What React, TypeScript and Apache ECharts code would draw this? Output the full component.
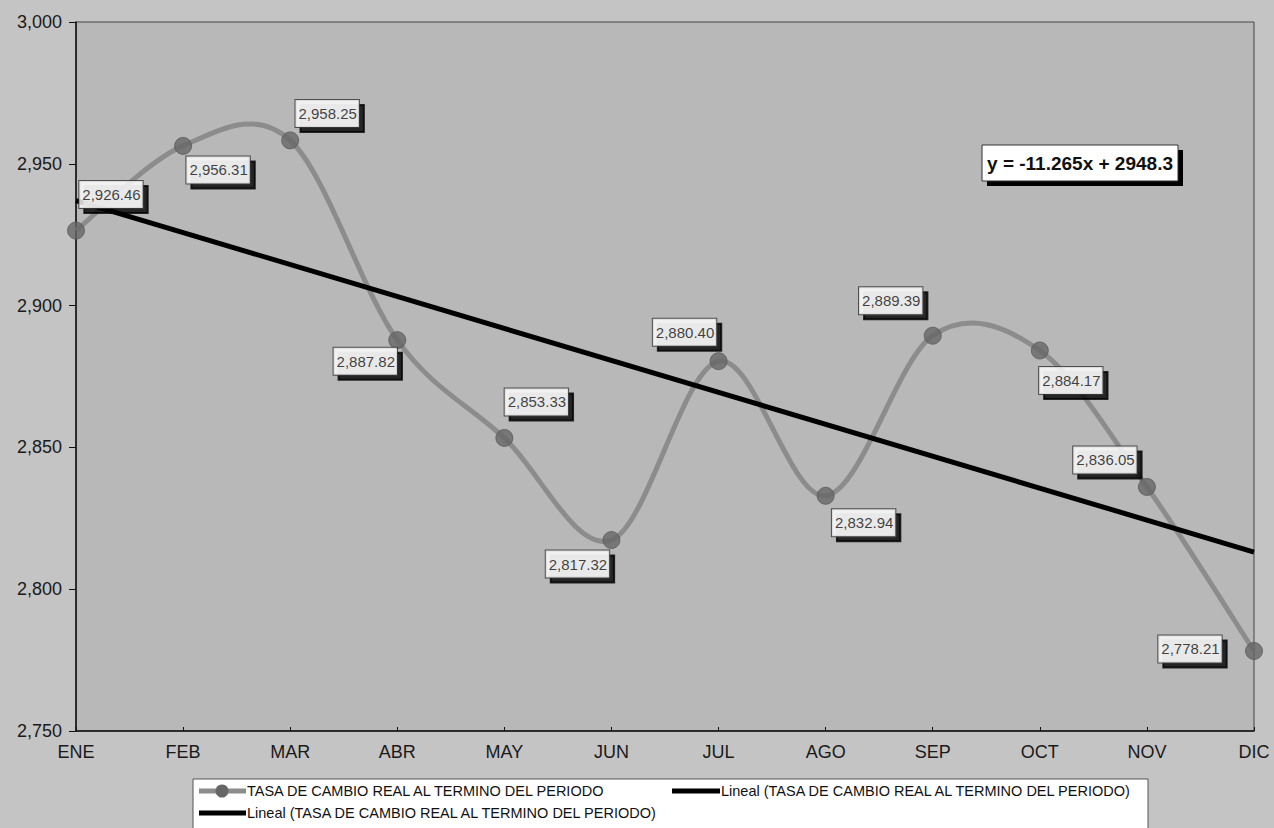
import React, { useEffect, useRef } from "react";
import * as echarts from "echarts";

const categories = ["ENE", "FEB", "MAR", "ABR", "MAY", "JUN", "JUL", "AGO", "SEP", "OCT", "NOV", "DIC"];
const tasaValues = [2926.46, 2956.31, 2958.25, 2887.82, 2853.33, 2817.32, 2880.4, 2832.94, 2889.39, 2884.17, 2836.05, 2778.21];
const trendCategories = ["ENE", "DIC"];
const trendValues = [2937.0, 2813.1];
const yTicks = { min: 2750, max: 3000, interval: 50 };
const seriesName = "TASA DE CAMBIO REAL AL TERMINO DEL PERIODO";
const trendName = "Lineal (TASA DE CAMBIO REAL AL TERMINO DEL PERIODO)";
const equationText = "y = -11.265x + 2948.3";
const labelOffsets = [
  [35, -36], [35, 24], [37, -27], [-32, 21], [32, -36], [-34, 24],
  [-34, -29], [38, 27], [-42, -35], [31, 30], [-42, -27], [-64, -2],
];

const FONT = 'Arial, "Liberation Sans", Helvetica, sans-serif';
const fmt = (v: number) => v.toLocaleString("en-US", { minimumFractionDigits: 2, maximumFractionDigits: 2 });

export default function App() {
  const ref = useRef<HTMLDivElement>(null);
  useEffect(() => {
    if (!ref.current) return;
    const chart = echarts.init(ref.current, null, { renderer: "svg" });

    const curveItem = (params: any, api: any) => {
      if (params.dataIndex !== 0) return null;
      const pts = tasaValues.map((v, i) => api.coord([i, v]));
      let d = `M${pts[0][0]},${pts[0][1]}`;
      for (let i = 0; i < pts.length - 1; i++) {
        const p0 = pts[Math.max(0, i - 1)];
        const p1 = pts[i];
        const p2 = pts[i + 1];
        const p3 = pts[Math.min(pts.length - 1, i + 2)];
        const c1 = [p1[0] + (p2[0] - p0[0]) / 6, p1[1] + (p2[1] - p0[1]) / 6];
        const c2 = [p2[0] - (p3[0] - p1[0]) / 6, p2[1] - (p3[1] - p1[1]) / 6];
        d += ` C${c1[0]},${c1[1]} ${c2[0]},${c2[1]} ${p2[0]},${p2[1]}`;
      }
      return {
        type: "path",
        shape: { pathData: d },
        style: { fill: "none", stroke: "#8c8c8c", lineWidth: 5 },
      };
    };

    const graphic: any[] = [
      // equation box
      { type: "rect", shape: { x: 987, y: 150, width: 196, height: 36 }, style: { fill: "#000" }, z: 50 },
      { type: "rect", shape: { x: 982, y: 145, width: 196, height: 36 }, style: { fill: "#fff", stroke: "#333", lineWidth: 1 }, z: 51 },
      {
        type: "text", x: 1080, y: 163, z: 52,
        style: { text: equationText, fill: "#111", font: `bold 19px ${FONT}`, align: "center", verticalAlign: "middle" },
      },
      // legend
      { type: "rect", shape: { x: 193, y: 779, width: 955, height: 60 }, style: { fill: "#fff", stroke: "#555", lineWidth: 1 }, z: 50 },
      { type: "line", shape: { x1: 199, y1: 791, x2: 246, y2: 791 }, style: { stroke: "#8c8c8c", lineWidth: 5 }, z: 51 },
      { type: "circle", shape: { cx: 222, cy: 791, r: 6.5 }, style: { fill: "#666" }, z: 52 },
      { type: "text", x: 247, y: 791, z: 52, style: { text: seriesName, fill: "#111", font: `14.5px ${FONT}`, verticalAlign: "middle" } },
      { type: "line", shape: { x1: 672, y1: 791, x2: 720, y2: 791 }, style: { stroke: "#000", lineWidth: 5 }, z: 51 },
      { type: "text", x: 721, y: 791, z: 52, style: { text: trendName, fill: "#111", font: `14.5px ${FONT}`, verticalAlign: "middle" } },
      { type: "line", shape: { x1: 199, y1: 813, x2: 246, y2: 813 }, style: { stroke: "#000", lineWidth: 5 }, z: 51 },
      { type: "text", x: 247, y: 813, z: 52, style: { text: trendName, fill: "#111", font: `14.5px ${FONT}`, verticalAlign: "middle" } },
    ];

    chart.setOption({
      animation: false,
      backgroundColor: "#c4c4c4",
      grid: {
        left: 76, right: 20, top: 22, bottom: 97,
        show: true, backgroundColor: "#b8b8b8", borderColor: "#444", borderWidth: 1,
      },
      xAxis: {
        type: "category",
        data: categories,
        boundaryGap: false,
        axisLine: { lineStyle: { color: "#111", width: 1.5 } },
        axisTick: { show: true, inside: true, length: 4, lineStyle: { color: "#111" } },
        axisLabel: { fontSize: 18, fontFamily: FONT, color: "#1a1a1a", margin: 12 },
        splitLine: { show: false },
      },
      yAxis: {
        type: "value",
        min: yTicks.min, max: yTicks.max, interval: yTicks.interval,
        axisLine: { show: true, lineStyle: { color: "#111", width: 1.5 } },
        axisTick: { show: true, length: 7, lineStyle: { color: "#111" } },
        axisLabel: {
          fontSize: 18, fontFamily: FONT, color: "#1a1a1a", margin: 14,
          formatter: (v: number) => v.toLocaleString("en-US"),
        },
        splitLine: { show: false },
      },
      series: [
        {
          type: "custom",
          name: seriesName,
          renderItem: curveItem,
          data: [[0, tasaValues[0]]],
          z: 2,
          silent: true,
        },
        {
          type: "line",
          name: trendName,
          data: trendCategories.map((c, i) => [c, trendValues[i]]),
          showSymbol: false,
          lineStyle: { color: "#000", width: 5 },
          z: 3,
        },
        {
          type: "scatter",
          name: seriesName,
          data: tasaValues.map((v, i) => ({
            value: [categories[i], v],
            label: { offset: labelOffsets[i] },
          })),
          symbol: "circle",
          symbolSize: 17,
          itemStyle: { color: "#676767", borderColor: "#5a5a5a", borderWidth: 1 },
          label: {
            show: true,
            position: "inside",
            fontSize: 15,
            lineHeight: 16,
            fontFamily: FONT,
            padding: [6, 2, 5, 3],
            formatter: (p: any) => fmt(p.value[1]),
            backgroundColor: "#fff",
            borderColor: "#333",
            borderWidth: 1,
            color: "#111",
            shadowColor: "#000",
            shadowBlur: 0,
            shadowOffsetX: 5,
            shadowOffsetY: 5,
          },
          z: 5,
        },
      ],
      graphic,
    });
    return () => chart.dispose();
  }, []);
  return (
    <div
      ref={ref}
      style={{ position: "fixed", left: 0, top: 0, width: 1274, height: 828, background: "#c4c4c4" }}
    />
  );
}
